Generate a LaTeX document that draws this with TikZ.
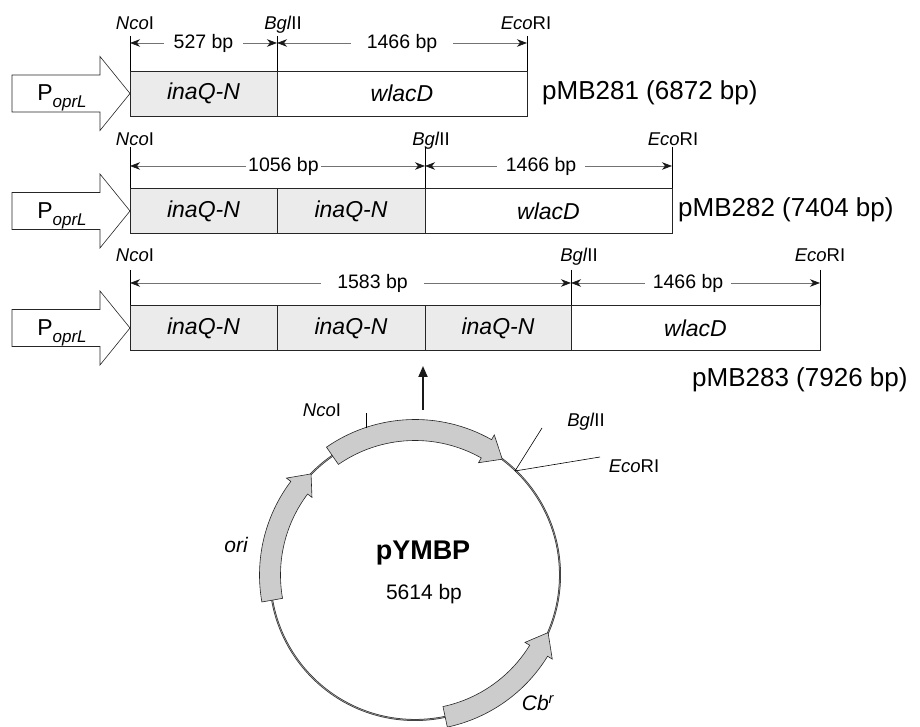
\documentclass[tikz,border=0pt]{standalone}
\usepackage{fontspec}
\setmainfont{Liberation Sans}
\usetikzlibrary{calc,arrows.meta}
\tikzset{
  seg/.style={draw=black!85, line width=0.6pt, minimum height=45pt, inner sep=0pt, outer sep=0pt, anchor=west, font=\fontsize{23}{25}\selectfont\itshape},
  ina/.style={seg, fill=black!8},
  wla/.style={seg, fill=white},
  sitelbl/.style={font=\fontsize{18.5}{20}\selectfont, inner sep=0pt, anchor=base},
  siteline/.style={draw=black, line width=0.6pt},
  dimarrows/.style={draw=black!55, line width=0.7pt, {Stealth[length=10pt,width=7.5pt,inset=3pt,black!90]}-{Stealth[length=10pt,width=7.5pt,inset=3pt,black!90]}},
  dimlabel/.style={fill=white, inner ysep=1pt, inner xsep=10pt, font=\fontsize{19.5}{21}\selectfont},
  prom/.style={draw=black!85, line width=0.6pt, fill=white},
  promtext/.style={font=\fontsize{23}{25}\selectfont, inner sep=0pt},
  plasname/.style={font=\fontsize{26}{28}\selectfont, anchor=west, inner sep=0pt},
  band/.style={draw=black!85, line width=0.6pt, fill=black!20},
  circlbl/.style={font=\fontsize{18.5}{20}\selectfont, inner sep=0pt},
}
\newcommand{\Poprl}{P\raisebox{-7pt}{\fontsize{17}{18}\selectfont\itshape oprL}}
\begin{document}
\begin{tikzpicture}[x=1pt,y=1pt]
\useasboundingbox (0,0) rectangle (920,727);

% ---------------- Row 1 ----------------
\draw[prom] (12,652) -- (100,652) -- (100,670.5) -- (130,633.5) -- (100,596.5) -- (100,615) -- (12,615) -- cycle;
\node[promtext] (p1) at (62,629) {\Poprl};
\node[ina, minimum width=147pt] (r1a) at (130,633.5) {inaQ-N};
\node[wla, minimum width=250pt] (r1w) at (277,633.5) {wlacD};
\coordinate (n1t) at (130,691); \coordinate (b1t) at (277,691); \coordinate (e1t) at (527,691);
\draw[siteline] (n1t) -- (r1a.north west);
\draw[siteline] (b1t) -- (r1a.north east);
\draw[siteline] (e1t) -- (r1w.north east);
\node[sitelbl] (n1l) at (135,697) {\textit{Nco}I};
\node[sitelbl] (b1l) at (283,697) {\textit{Bgl}II};
\node[sitelbl] (e1l) at (526,697) {\textit{Eco}RI};
\coordinate (n1d) at (130,684); \coordinate (b1d) at (277,684); \coordinate (e1d) at (527,684);
\draw[dimarrows] (n1d) -- node[dimlabel] (d1a) {527 bp} (b1d);
\draw[dimarrows] (b1d) -- node[dimlabel, inner xsep=16pt] (d1b) {1466 bp} (e1d);
\node[plasname] (pm1) at (542,634) {pMB281 (6872 bp)};

% ---------------- Row 2 ----------------
\draw[prom] (12,534.5) -- (100,534.5) -- (100,553) -- (130,516) -- (100,479) -- (100,497.5) -- (12,497.5) -- cycle;
\node[promtext] (p2) at (62,511.5) {\Poprl};
\node[ina, minimum width=147pt] (r2a) at (130,516) {inaQ-N};
\node[ina, minimum width=148pt] (r2b) at (277,516) {inaQ-N};
\node[wla, minimum width=247pt] (r2w) at (425,516) {wlacD};
\coordinate (n2t) at (130,580); \coordinate (b2t) at (425,580); \coordinate (e2t) at (672,580);
\draw[siteline] (n2t) -- (r2a.north west);
\draw[siteline] (b2t) -- (r2b.north east);
\draw[siteline] (e2t) -- (r2w.north east);
\node[sitelbl] (n2l) at (135,581) {\textit{Nco}I};
\node[sitelbl] (b2l) at (431,581) {\textit{Bgl}II};
\node[sitelbl] (e2l) at (673,581) {\textit{Eco}RI};
\coordinate (n2d) at (130,561); \coordinate (b2d) at (425,561); \coordinate (e2d) at (672,561);
\draw[dimarrows] (n2d) -- node[dimlabel, inner xsep=2pt, pos=0.52] (d2a) {1056 bp} (b2d);
\draw[dimarrows] (b2d) -- node[dimlabel, inner xsep=9pt, pos=0.47] (d2b) {1466 bp} (e2d);
\node[plasname] (pm2) at (678,517) {pMB282 (7404 bp)};

% ---------------- Row 3 ----------------
\draw[prom] (12,417.5) -- (100,417.5) -- (100,436) -- (130,399) -- (100,362) -- (100,380.5) -- (12,380.5) -- cycle;
\node[promtext] (p3) at (62,394.5) {\Poprl};
\node[ina, minimum width=147pt] (r3a) at (130,399) {inaQ-N};
\node[ina, minimum width=148pt] (r3b) at (277,399) {inaQ-N};
\node[ina, minimum width=146pt] (r3c) at (425,399) {inaQ-N};
\node[wla, minimum width=249pt] (r3w) at (571,399) {wlacD};
\coordinate (n3t) at (130,457); \coordinate (b3t) at (571,457); \coordinate (e3t) at (820,457);
\draw[siteline] (n3t) -- (r3a.north west);
\draw[siteline] (b3t) -- (r3c.north east);
\draw[siteline] (e3t) -- (r3w.north east);
\node[sitelbl] (n3l) at (135,465) {\textit{Nco}I};
\node[sitelbl] (b3l) at (579,465) {\textit{Bgl}II};
\node[sitelbl] (e3l) at (820,465) {\textit{Eco}RI};
\coordinate (n3d) at (130,444); \coordinate (b3d) at (571,444); \coordinate (e3d) at (820,444);
\draw[dimarrows] (n3d) -- node[dimlabel, inner xsep=16pt, pos=0.55] (d3a) {1583 bp} (b3d);
\draw[dimarrows] (b3d) -- node[dimlabel, inner xsep=8pt, pos=0.47] (d3b) {1466 bp} (e3d);
\node[plasname] (pm3) at (692,347) {pMB283 (7926 bp)};

% ---------------- Plasmid circle ----------------
\coordinate (C) at (415,152);
\draw[black!80, line width=1.9pt] (C) circle[radius=145];
\draw[black!25, line width=0.35pt] (C) circle[radius=145];
% insert band (top)
\draw[band] ($(C)+(124.7:155.5)$) arc[start angle=124.7,end angle=60.5,radius=155.5]
  -- ($(C)+(60.5:161)$) -- ($(C)+(53:145)$) -- ($(C)+(60.5:129)$) -- ($(C)+(60.5:134.5)$)
  arc[start angle=60.5,end angle=124.7,radius=134.5] -- cycle;
% ori band
\draw[band] ($(C)+(190:155.5)$) arc[start angle=190,end angle=143,radius=155.5]
  -- ($(C)+(143:161)$) -- ($(C)+(135.8:145)$) -- ($(C)+(143:129)$) -- ($(C)+(143:134.5)$)
  arc[start angle=143,end angle=190,radius=134.5] -- cycle;
% Cb band
\draw[band] ($(C)+(-78:155.5)$) arc[start angle=-78,end angle=-31.5,radius=155.5]
  -- ($(C)+(-31.5:161)$) -- ($(C)+(-23.4:145)$) -- ($(C)+(-31.5:129)$) -- ($(C)+(-31.5:134.5)$)
  arc[start angle=-31.5,end angle=-78,radius=134.5] -- cycle;

% sites on circle
\coordinate (cn0) at (366,299); \coordinate (cn1) at (366,314);
\draw[siteline] (cn0) -- (cn1);
\coordinate (cb0) at (515,256); \coordinate (cb1) at (542,299); \coordinate (ce1) at (600,270);
\draw[siteline] (cb0) -- (cb1);
\draw[siteline] (cb0) -- (ce1);
\node[circlbl] (cnl) at (322,317) {\textit{Nco}I};
\node[circlbl] (cbl) at (586,305) {\textit{Bgl}II};
\node[circlbl] (cel) at (634,261) {\textit{Eco}RI};
\node[font=\fontsize{21}{23}\selectfont\itshape, inner sep=0pt] (oril) at (236,182) {ori};
\node[font=\fontsize{21}{23}\selectfont\itshape, inner sep=0pt] (cbrl) at (538,24) {Cb\textsuperscript{r}};
\node[font=\bfseries\fontsize{27}{29}\selectfont, inner sep=0pt] (pym) at (423,174) {pYMBP};
\node[font=\fontsize{21}{23}\selectfont, inner sep=0pt] (pys) at (424,133) {5614 bp};

% up arrow
\coordinate (ua) at (423,317); \coordinate (ub) at (423,361);
\draw[black!90, line width=1.8pt, -{Triangle[length=11pt,width=9pt]}] (ua) -- (ub);
\end{tikzpicture}
\end{document}
